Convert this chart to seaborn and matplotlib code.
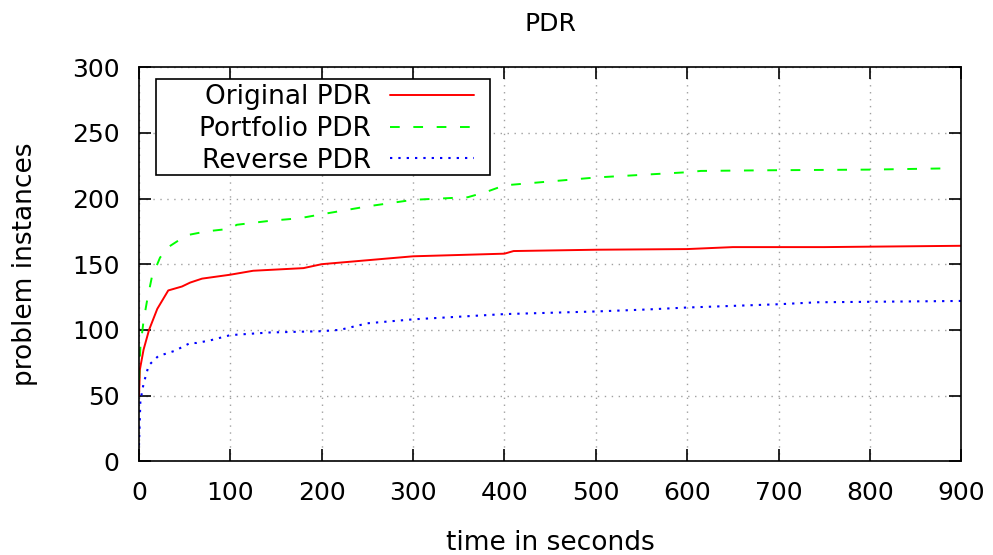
import numpy as np
import pandas as pd
import matplotlib
matplotlib.use("Agg")
import matplotlib.pyplot as plt
from matplotlib.patches import Rectangle
import seaborn as sns

sns.set_style("ticks")
plt.rcParams['font.family'] = ['DejaVu Sans']
plt.rcParams['text.color'] = 'black'
plt.rcParams['axes.labelcolor'] = 'black'

# cumulative number of solved instances over time
red_t = [0, 1, 5, 11, 20, 32, 47, 56, 69, 100, 125, 180, 200, 250, 300, 350,
         400, 410, 500, 600, 650, 750, 900]
red_y = [50, 70, 85, 100, 116, 130, 133, 136, 139, 142, 145, 147, 150, 153,
         156, 157, 158, 160, 161, 161.5, 163, 163, 164]

green_t = [0, 1.5, 5, 9, 14, 23, 32, 52, 74, 100, 107, 143, 176, 200, 250, 300,
           360, 380, 400, 450, 500, 550, 600, 615, 690, 800, 890]
green_y = [62, 87, 107, 123, 140, 155, 163, 172, 175, 177, 180, 183, 185, 188,
           194, 199, 201, 205, 210, 213, 216, 218, 220, 221, 221.5, 222, 223]

blue_t = [0, 1.5, 5, 10.6, 21, 39, 56, 63, 78, 100, 143, 200, 220, 250, 300,
          400, 500, 556, 600, 700, 743, 900]
blue_y = [12, 46, 59, 73, 80, 84, 90, 90, 92, 96, 98, 99, 100, 105, 108, 112,
          114, 115.5, 117, 119.5, 121, 122]

labels = ['Original PDR', 'Portfolio PDR', 'Reverse PDR']
xticks = [0, 100, 200, 300, 400, 500, 600, 700, 800, 900]
yticks = [0, 50, 100, 150, 200, 250, 300]

fig = plt.figure(figsize=(9.93, 5.55), dpi=100)
ax = fig.add_axes([0.140, 0.169, 0.828, 0.710])

sns.lineplot(x=red_t, y=red_y, ax=ax, color='#ff0000', lw=1.4,
             label=labels[0])
sns.lineplot(x=green_t, y=green_y, ax=ax, color='#00ff00', lw=1.4,
             label=labels[1])
sns.lineplot(x=blue_t, y=blue_y, ax=ax, color='#0000ff', lw=1.5,
             label=labels[2])
ax.lines[1].set_dashes((5, 7))
ax.lines[2].set_dashes((1.1, 2.9))

ax.set_xlim(0, 900)
ax.set_ylim(0, 300)
ax.set_xticks(xticks)
ax.set_yticks(yticks)
ax.grid(True, color='#a0a0a0', ls=(0, (1, 4)), lw=1)
for s in ax.spines.values():
    s.set_color('black')
    s.set_linewidth(1.2)
ax.tick_params(direction='in', length=8.5, width=1.2, top=True, right=True,
               labelsize=18, colors='black')
ax.tick_params(axis='x', pad=14)
ax.tick_params(axis='y', pad=14)

ax.set_title('PDR', fontsize=18, pad=26)
ax.set_xlabel('time in seconds', fontsize=19, labelpad=18)
ax.set_ylabel('problem instances', fontsize=19, labelpad=24)

# gnuplot style key box: wide frame, text right-aligned, sample on the right
ax.add_patch(Rectangle((0.0207, 0.726), 0.4063, 0.2435, transform=ax.transAxes,
                       facecolor='white', edgecolor='black', lw=1.2,
                       zorder=4.5))
leg = ax.legend(loc='upper right', bbox_to_anchor=(0.4075, 0.957),
                borderaxespad=0, borderpad=0, markerfirst=False,
                frameon=False, fontsize=19, handlelength=3.2,
                handletextpad=0.7, labelspacing=0.22)
leg.set_zorder(5)

fig.savefig('out.png', dpi=100)
